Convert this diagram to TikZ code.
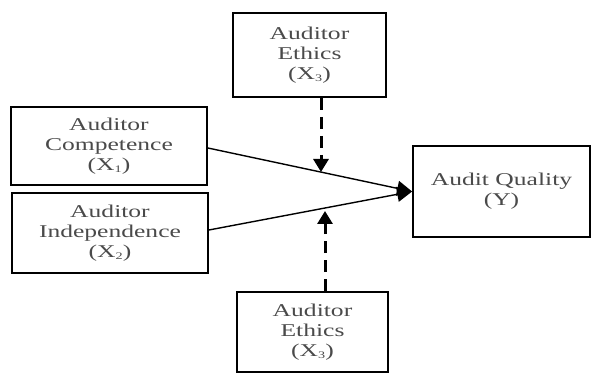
\documentclass[tikz,border=0pt]{standalone}
\usepackage{fontspec}
\setmainfont[FakeStretch=1.42]{Liberation Serif}
\usetikzlibrary{arrows.meta}
\definecolor{txt}{HTML}{4A4A4A}
\tikzset{
  box/.style={draw=black, line width=1.8pt, align=center, inner sep=0pt,
    text=txt, font=\fontsize{18}{20}\selectfont},
  rel/.style={line width=1.4pt, -{Triangle[length=15pt,width=15pt]}},
  mod/.style={line width=3pt, dash pattern=on 12pt off 7pt, -{Triangle[length=13pt,width=15pt]}}
}
\newcommand{\sbs}[1]{\raisebox{-2pt}{\fontsize{10}{10}\selectfont #1}}
\begin{document}
\begin{tikzpicture}[x=1pt,y=-1pt]
\useasboundingbox (0,0) rectangle (598,374);
\node[box, minimum width=153pt, minimum height=84pt] (eth1) at (309.5,55) {Auditor\\Ethics\\(X\sbs{3})};
\node[box, minimum width=196pt, minimum height=78pt] (comp) at (109,146) {Auditor\\Competence\\(X\sbs{1})};
\node[box, minimum width=196pt, minimum height=80pt] (ind) at (110,233) {Auditor\\Independence\\(X\sbs{2})};
\node[box, minimum width=151pt, minimum height=80pt] (eth2) at (312.5,332) {Auditor\\Ethics\\(X\sbs{3})};
\node[box, minimum width=177pt, minimum height=91pt] (aq) at (501.5,191.5) {Audit Quality\\(Y)};
\coordinate (t1) at (321,172);
\coordinate (t2) at (325,211);
\draw[rel] (comp.east |- 0,148) -- (aq.west);
\draw[rel] (ind.east |- 0,230) -- (aq.west);
\draw[mod] (eth1.south -| t1) -- (t1);
\draw[mod] (eth2.north -| t2) -- (t2);
\end{tikzpicture}
\end{document}
